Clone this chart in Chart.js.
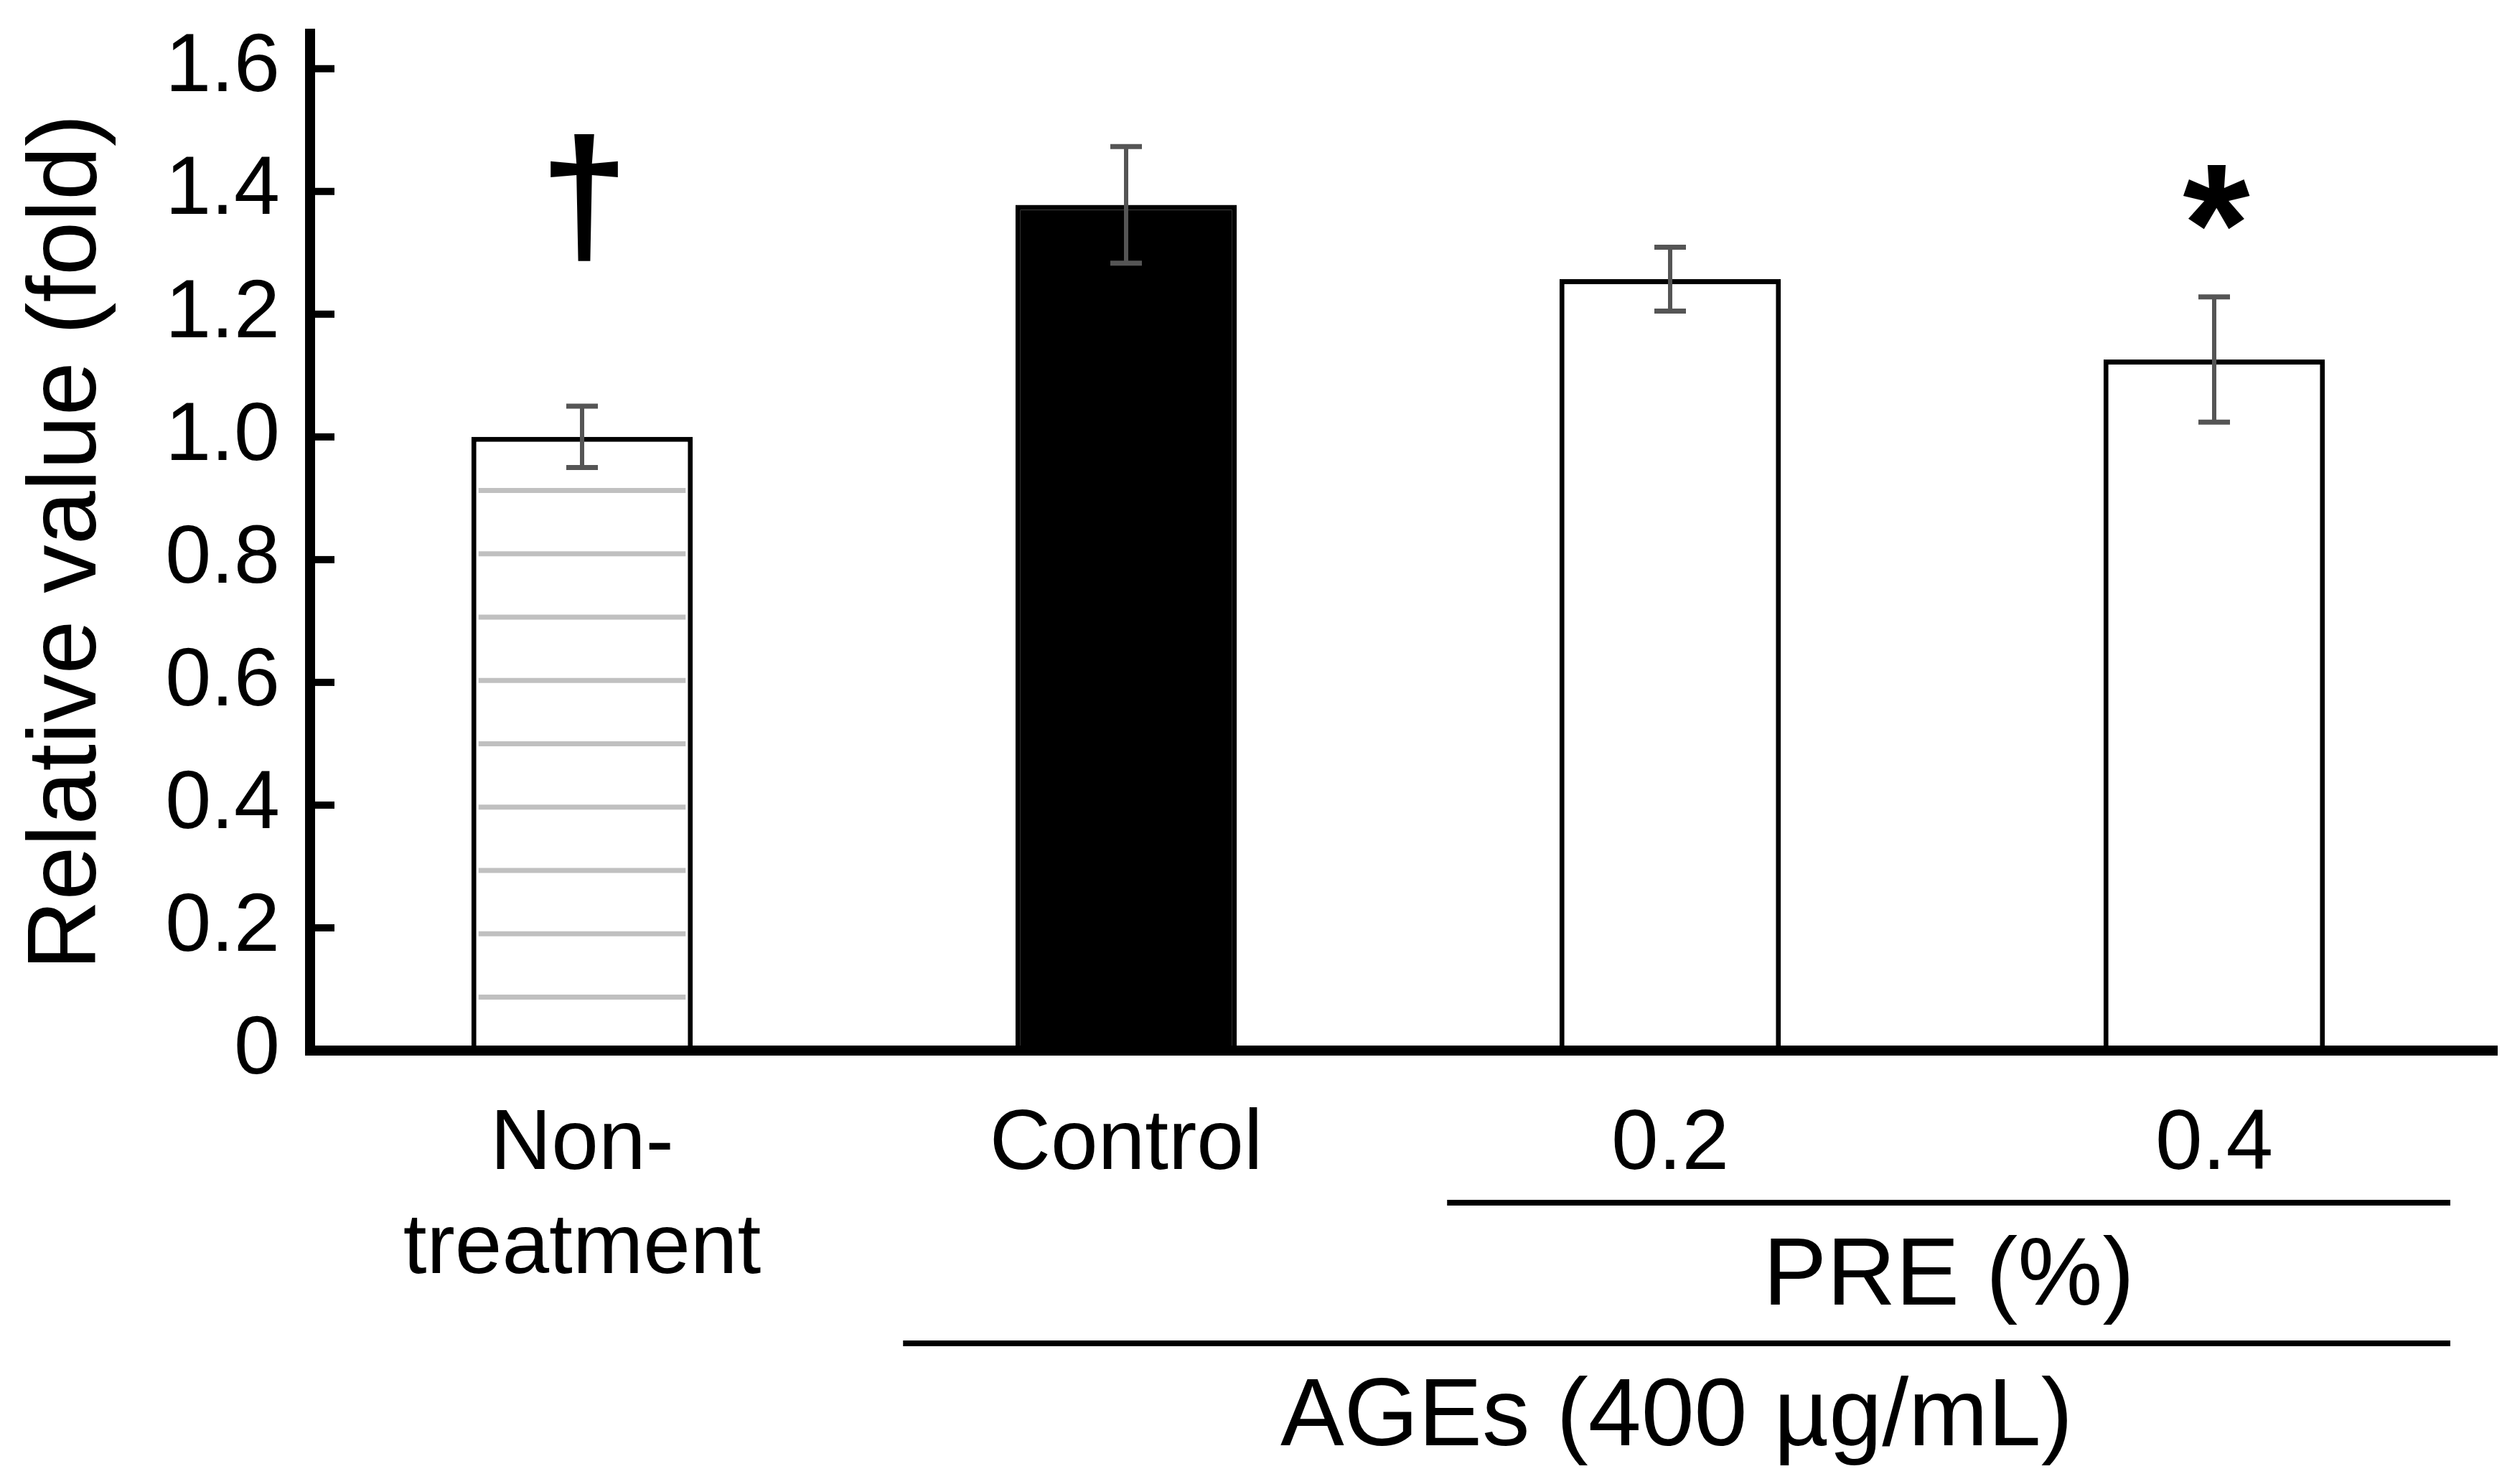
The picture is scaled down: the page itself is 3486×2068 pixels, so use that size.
<!DOCTYPE html>
<html>
<head>
<meta charset="utf-8">
<script src="https://cdn.jsdelivr.net/npm/chart.js"></script>
<title>Relative value (fold)</title>
<style>
    html, body { margin: 0; padding: 0; background: #ffffff; }
    #wrap { width: 3486px; height: 2068px; }
</style>
</head>
<body>
<div id="wrap"><canvas id="barChart" width="3486" height="2068"></canvas></div>

<script>
    // values
    var categories = [['Non-', 'treatment'], 'Control', '0.2', '0.4'];
    var means = [1.0, 1.378, 1.257, 1.126];
    var sds = [0.05, 0.095, 0.052, 0.102];
    var marks = ['\u2020', '', '', '*'];
    var yTickLabels = ['0', '0.2', '0.4', '0.6', '0.8', '1.0', '1.2', '1.4', '1.6'];
    var groupLabels = ['PRE (%)', 'AGEs (400 \u00b5g/mL)'];
    var groupFrom = [2, 1];
    var groupTo = [3, 3];

    var FONT = '"Liberation Sans", Arial, sans-serif';
    var MARK_LEVEL = 1.39;   // height of the significance marks

    var decorations = {
        id: 'decorations',
        afterDatasetsDraw: function(chart) {
            var ctx = chart.ctx;
            var area = chart.chartArea;
            var xs = chart.scales.x;
            var ys = chart.scales.y;
            var bars = chart.getDatasetMeta(0).data;
            var step = xs.getPixelForValue(1) - xs.getPixelForValue(0);

            ctx.save();

            // grey horizontal hatch inside the non-treatment bar
            var b = bars[0];
            var left = b.x - b.width / 2, right = b.x + b.width / 2;
            ctx.strokeStyle = '#c0c0c0';
            ctx.lineWidth = 7;
            for (var v = 0.087; v < means[0] - 0.06; v += 0.1032) {
                var hy = ys.getPixelForValue(v);
                ctx.beginPath();
                ctx.moveTo(left + 10, hy);
                ctx.lineTo(right - 10, hy);
                ctx.stroke();
            }

            // error bars
            ctx.strokeStyle = '#555555';
            bars.forEach(function(bar, i) {
                var yh = ys.getPixelForValue(means[i] + sds[i]);
                var yl = ys.getPixelForValue(means[i] - sds[i]);
                ctx.lineWidth = 6;
                ctx.beginPath();
                ctx.moveTo(bar.x, yh);
                ctx.lineTo(bar.x, yl);
                ctx.stroke();
                ctx.lineWidth = 7;
                ctx.beginPath();
                ctx.moveTo(bar.x - 22, yh); ctx.lineTo(bar.x + 22, yh);
                ctx.moveTo(bar.x - 22, yl); ctx.lineTo(bar.x + 22, yl);
                ctx.stroke();
            });

            // significance marks
            ctx.fillStyle = '#000000';
            ctx.textAlign = 'center';
            ctx.textBaseline = 'alphabetic';
            bars.forEach(function(bar, i) {
                if (!marks[i]) return;
                ctx.font = 'bold ' + (marks[i] === '*' ? 240 : 222) + 'px ' + FONT;
                var m = ctx.measureText(marks[i]);
                var yc = ys.getPixelForValue(MARK_LEVEL);
                ctx.fillText(marks[i], bar.x + 3, yc + (m.actualBoundingBoxAscent - m.actualBoundingBoxDescent) / 2);
            });

            // x axis line, running a little past the last bar
            ctx.fillRect(area.left - 7, area.bottom - 7, area.right + 16 - (area.left - 7), 14);

            // inward tick marks on the y axis
            ys.ticks.forEach(function(t) {
                if (t.value <= 0) return;
                var ty = ys.getPixelForValue(t.value);
                ctx.fillRect(area.left + 6, ty - 5, 28, 10);
            });

            // group brackets under the category labels
            ctx.font = '133px ' + FONT;
            ctx.textBaseline = 'alphabetic';
            groupLabels.forEach(function(label, g) {
                var x0 = xs.getPixelForValue(groupFrom[g]) - 0.41 * step;
                var x1 = xs.getPixelForValue(groupTo[g]) + 0.434 * step;
                var ly = area.bottom + 212 + g * 196;
                ctx.fillRect(x0, ly - 4, x1 - x0, 8);
                ctx.fillText(label, (x0 + x1) / 2, ly + 142);
            });

            ctx.restore();
        }
    };

    var ctx = document.getElementById('barChart');
    var barChart = new Chart(ctx, {
        type: 'bar',
        data: {
            labels: categories,
            datasets: [{
                label: 'Relative value',
                data: means,
                backgroundColor: ['#ffffff', '#000000', '#ffffff', '#ffffff'],
                borderColor: '#000000',
                borderWidth: 7,
                barPercentage: 0.407,
                categoryPercentage: 1.0
            }]
        },
        options: {
            responsive: false,
            animation: false,
            devicePixelRatio: 1,
            layout: { padding: { top: 47, right: 22, bottom: 0, left: 0 } },
            plugins: {
                legend: { display: false },
                tooltip: { enabled: false }
            },
            scales: {
                x: {
                    grid: { display: false, drawTicks: false },
                    border: { display: false },
                    afterFit: function(scale) {
                        scale.height = 604;
                        scale.paddingLeft = 0;
                        scale.paddingRight = 0;
                    },
                    ticks: {
                        color: '#000000',
                        maxRotation: 0,
                        autoSkip: false,
                        padding: 60,
                        font: { family: FONT, size: 118, lineHeight: 1.23 }
                    }
                },
                y: {
                    min: 0,
                    max: 1.657,
                    grid: { display: false, drawTicks: false },
                    border: { display: true, color: '#000000', width: 14 },
                    afterFit: function(scale) {
                        scale.width = 432;
                        scale.paddingTop = 0;
                        scale.paddingBottom = 0;
                    },
                    ticks: {
                        stepSize: 0.2,
                        includeBounds: false,
                        color: '#000000',
                        padding: 42,
                        font: { family: FONT, size: 115 },
                        callback: function(value) {
                            return yTickLabels[Math.round(value / 0.2)];
                        }
                    },
                    title: {
                        display: true,
                        text: 'Relative value (fold)',
                        color: '#000000',
                        padding: { top: 15, bottom: 0 },
                        font: { family: FONT, size: 135, lineHeight: 1.2 }
                    }
                }
            }
        },
        plugins: [decorations]
    });
</script>
</body>
</html>
